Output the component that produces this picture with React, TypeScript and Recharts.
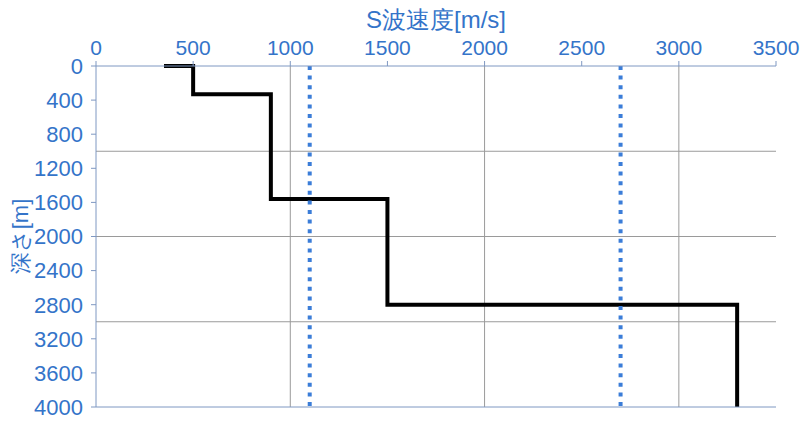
import { ComposedChart, Line, XAxis, YAxis, CartesianGrid, ReferenceLine, Label } from 'recharts'

// S-wave velocity profile: corner points of the step curve (velocity m/s, depth m)
const profileVelocity = [350, 500, 500, 900, 900, 1500, 1500, 3300, 3300]
const profileDepth = [0, 0, 330, 330, 1560, 1560, 2800, 2800, 4000]

// dotted reference velocities
const refVelocities = [1100, 2700]

const velocityTicks = [0, 500, 1000, 1500, 2000, 2500, 3000, 3500]
const depthTicks = [0, 400, 800, 1200, 1600, 2000, 2400, 2800, 3200, 3600, 4000]
const gridVelocities = [1000, 2000, 3000]
const gridDepths = [1000, 2000, 3000]

const data = profileVelocity.map((v, i) => ({ vel: v, depth: profileDepth[i] }))

const BLUE = '#3474c9'
const AXIS = '#7f98c2'
const FONT = '"Liberation Sans", Arial, sans-serif'

export default function App() {
  return (
    <div style={{ width: 809, height: 423, background: '#fff' }}>
      <style>{'body{margin:0}'}</style>
      <ComposedChart
        width={809}
        height={423}
        data={data}
        layout="vertical"
        margin={{ top: 0, right: 33, bottom: 0, left: 0 }}
      >
        <CartesianGrid
          stroke="#9a9a9a"
          horizontalValues={gridDepths}
          verticalValues={gridVelocities}
        />
        <XAxis
          type="number"
          dataKey="vel"
          orientation="top"
          domain={[0, 3500]}
          ticks={velocityTicks}
          interval={0}
          height={66}
          tickSize={5}
          tickMargin={6}
          tick={{ fontSize: 21, fill: BLUE, fontFamily: FONT }}
          axisLine={{ stroke: AXIS }}
          tickLine={{ stroke: AXIS }}
        >
          <Label
            value="S波速度[m/s]"
            position="insideTop"
            offset={11}
            style={{ fontSize: 24, fill: BLUE, fontFamily: FONT }}
          />
        </XAxis>
        <XAxis
          xAxisId="bottom"
          type="number"
          dataKey="vel"
          orientation="bottom"
          domain={[0, 3500]}
          ticks={velocityTicks}
          interval={0}
          height={16}
          tickSize={4}
          tick={false}
          axisLine={{ stroke: AXIS }}
          tickLine={{ stroke: AXIS }}
        />
        <YAxis
          type="number"
          dataKey="depth"
          domain={[0, 4000]}
          ticks={depthTicks}
          interval={0}
          width={96}
          tickSize={5}
          tickMargin={8}
          tick={{ fontSize: 22, fill: BLUE, fontFamily: FONT }}
          axisLine={{ stroke: AXIS }}
          tickLine={{ stroke: AXIS }}
        >
          <Label
            value="深さ[m]"
            angle={-90}
            position="insideLeft"
            offset={20}
            style={{ fontSize: 22, fill: BLUE, fontFamily: FONT, textAnchor: 'middle' }}
          />
        </YAxis>
        <Line
          dataKey="vel"
          type="linear"
          stroke="#000"
          strokeWidth={4}
          dot={false}
          activeDot={false}
          isAnimationActive={false}
        />
        {refVelocities.map(v => (
          <ReferenceLine
            key={v}
            x={v}
            stroke="#3b7dd8"
            strokeWidth={4}
            strokeDasharray="4 5.6"
          />
        ))}
      </ComposedChart>
    </div>
  )
}
